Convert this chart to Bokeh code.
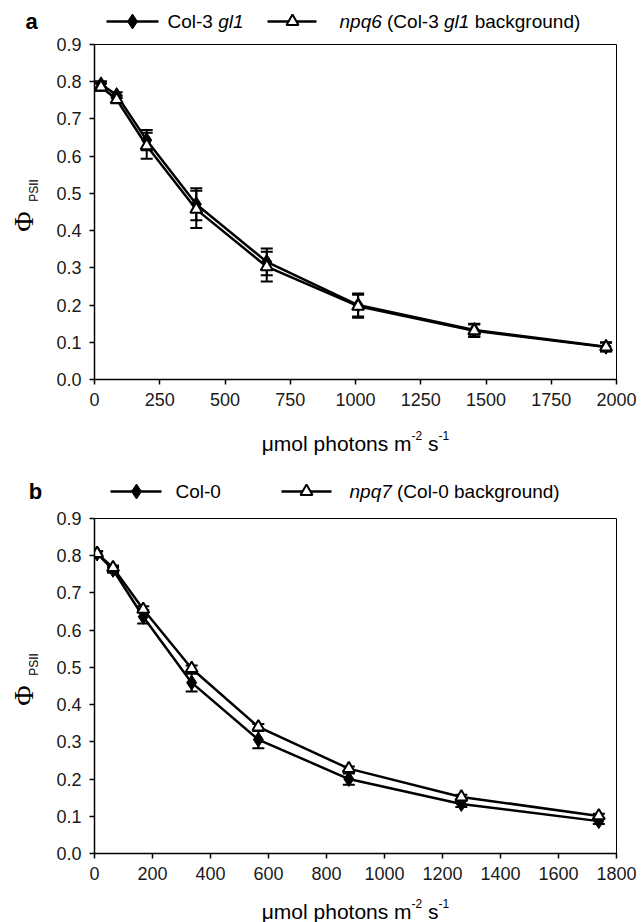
import math
from bokeh.plotting import figure
from bokeh.models import Range1d, FixedTicker, Whisker, TeeHead, ColumnDataSource, NumeralTickFormatter
from bokeh.layouts import column, row
from bokeh.embed import file_html
from bokeh.resources import INLINE
from bokeh.core.properties import value

# ---------------- data ----------------
# Panel a: Col-3 gl1 vs npq6
a_light = [25, 85, 200, 390, 660, 1010, 1455, 1960]
a_col3 = [0.793, 0.764, 0.643, 0.471, 0.316, 0.200, 0.133, 0.088]
a_col3_err = [0.008, 0.008, 0.027, 0.043, 0.036, 0.031, 0.017, 0.012]
a_npq6 = [0.786, 0.752, 0.628, 0.457, 0.303, 0.197, 0.131, 0.087]
a_npq6_err = [0.010, 0.010, 0.035, 0.050, 0.040, 0.031, 0.017, 0.012]
a_xticks = [0, 250, 500, 750, 1000, 1250, 1500, 1750, 2000]

# Panel b: Col-0 vs npq7
b_light = [9, 64, 168, 335, 565, 877, 1265, 1739]
b_col0 = [0.806, 0.762, 0.636, 0.459, 0.306, 0.200, 0.133, 0.087]
b_col0_err = [0.006, 0.008, 0.018, 0.024, 0.023, 0.015, 0.008, 0.008]
b_npq7 = [0.806, 0.768, 0.656, 0.497, 0.340, 0.228, 0.152, 0.101]
b_npq7_err = [0.006, 0.006, 0.008, 0.008, 0.008, 0.006, 0.006, 0.006]
b_xticks = [0, 200, 400, 600, 800, 1000, 1200, 1400, 1600, 1800]

yticks = [0.0, 0.1, 0.2, 0.3, 0.4, 0.5, 0.6, 0.7, 0.8, 0.9]

FONT = "Liberation Sans"
ARIAL = {' ': 278, '(': 333, ')': 333, '-': 333, 'C': 722, 'a': 556, 'b': 556, 'c': 500,
         'd': 556, 'g': 556, 'k': 500, 'l': 222, 'n': 556, 'o': 556, 'p': 556, 'q': 556,
         'r': 333, 'u': 556, 'm': 833, 's': 500, 't': 278, 'h': 556, 'μ': 576}
for _d in "0123456789":
    ARIAL[_d] = 556

W = 641


def text_width(s, size):
    return sum(ARIAL.get(c, 556) for c in s) / 1000.0 * size


def blank_fig(x0, x1, top, bottom):
    p = figure(frame_width=x1 - x0, frame_height=bottom - top, title=None,
               min_border_left=0, min_border_right=0, min_border_top=0, min_border_bottom=0,
               x_range=Range1d(x0, x1), y_range=Range1d(bottom, top),
               x_axis_location=None, y_axis_location=None, frame_align=False,
               output_backend="svg", toolbar_location=None)
    p.outline_line_color = None
    p.xgrid.visible = False
    p.ygrid.visible = False
    return p


def put_text(p, x, y, s, size, style="normal", font=FONT, align="left", baseline="middle", angle=0.0):
    p.text(x=[x], y=[y], text=[s], text_font=value(font), text_font_size=value(f"{size}px"),
           text_font_style=style, text_align=align, text_baseline=baseline,
           text_color="black", angle=angle)


def add_legend(p, cy, letter, letter_x, items, fsize=19):
    put_text(p, letter_x, cy, letter, 22, style="bold", align="center")
    for (x0, x1, xm, marker, tx, pieces) in items:
        p.line([x0, x1], [cy, cy], line_color="black", line_width=2.5)
        if marker == "diamond":
            p.scatter([xm], [cy], marker="diamond", size=15, fill_color="black", line_color="black")
        else:
            p.scatter([xm], [cy], marker="triangle", size=12, fill_color="white",
                      line_color="black", line_width=2)
        x = tx
        for (s, italic) in pieces:
            lead = len(s) - len(s.lstrip(" "))
            put_text(p, x + text_width(" " * lead, fsize), cy, s.strip(" "), fsize,
                     style="italic" if italic else "normal")
            x += text_width(s, fsize)


def add_xlabel(p, cx, base, size=21, ssize=12):
    pieces = [("μmol photons m", size, 0), ("-2", ssize, 8), (" s", size, 0), ("-1", ssize, 8)]
    total = sum(text_width(s, fs) for s, fs, _ in pieces)
    x = cx - total / 2
    for s, fs, rise in pieces:
        lead = len(s) - len(s.lstrip(" "))
        put_text(p, x + text_width(" " * lead, fs), base - rise, s.strip(" "), fs, baseline="alphabetic")
        x += text_width(s, fs)


def ylabel_fig(top, bottom, phi_y, sub_y):
    p = blank_fig(0, 50, top, bottom)
    put_text(p, 23, phi_y, "Φ", 28, font="Liberation Serif", align="center", angle=math.pi / 2)
    put_text(p, 33, sub_y, "PSII", 12, align="center", angle=math.pi / 2)
    return p


def main_fig(light, s1, e1, s2, e2, xmax, xticks, fh, bt, bb):
    p = figure(frame_width=522, frame_height=fh, title=None,
               min_border_left=44, min_border_right=25, min_border_top=bt, min_border_bottom=bb,
               x_range=Range1d(0, xmax), y_range=Range1d(0, 0.9), frame_align=False,
               output_backend="svg", toolbar_location=None)
    p.xgrid.visible = False
    p.ygrid.visible = False
    p.outline_line_color = "black"
    p.outline_line_width = 1
    p.outline_line_alpha = 1
    p.xaxis.ticker = FixedTicker(ticks=xticks)
    p.yaxis.ticker = FixedTicker(ticks=yticks)
    p.yaxis.formatter = NumeralTickFormatter(format="0.0")
    for ax in (p.xaxis, p.yaxis):
        ax.axis_label = None
        ax.axis_line_color = "black"
        ax.axis_line_width = 1.5
        ax.major_tick_line_color = "black"
        ax.major_tick_line_width = 1.5
        ax.major_tick_out = 5
        ax.major_tick_in = 0
        ax.minor_tick_line_color = None
        ax.major_label_text_font = FONT
        ax.major_label_text_font_size = "18px"
        ax.major_label_text_color = "#1a1a1a"
        ax.major_label_standoff = 8
        ax.axis_label_standoff = 0

    up1 = [v + e for v, e in zip(s1, e1)]
    lo1 = [v - e for v, e in zip(s1, e1)]
    up2 = [v + e for v, e in zip(s2, e2)]
    lo2 = [v - e for v, e in zip(s2, e2)]
    for up, lo in ((up1, lo1), (up2, lo2)):
        src = ColumnDataSource(dict(base=light, upper=up, lower=lo))
        w = Whisker(source=src, base="base", upper="upper", lower="lower", dimension="height",
                    line_color="black", line_width=2,
                    upper_head=TeeHead(size=12, line_width=2, line_color="black"),
                    lower_head=TeeHead(size=12, line_width=2, line_color="black"))
        p.add_layout(w)

    p.line(light, s1, line_color="black", line_width=2.5)
    p.line(light, s2, line_color="black", line_width=2.5)
    p.scatter(light, s1, marker="diamond", size=15, fill_color="black", line_color="black")
    p.scatter(light, s2, marker="triangle", size=12, fill_color="white", line_color="black", line_width=2)
    return p


# ---------------- layout (page pixels, no page margin) ----------------
# legend a: y 0..33
leg_a = blank_fig(0, W, 0, 33)
add_legend(leg_a, 21, "a", 31, [
    (106, 158, 132, "diamond", 167, [("Col-3 ", False), ("gl1", True)]),
    (267, 316, 292, "triangle", 339, [("npq6", True), (" (Col-3 ", False), ("gl1", True), (" background)", False)]),
])

# panel a: y 33..419 (frame 44..379)
main_a = main_fig(a_light, a_col3, a_col3_err, a_npq6, a_npq6_err, 2000, a_xticks, 335, 11, 40)
ylab_a = ylabel_fig(33, 419, 221, 190)

# middle strip: y 419..507 (x label a, legend b)
mid = blank_fig(0, W, 419, 507)
add_xlabel(mid, 355, 443)
add_legend(mid, 491, "b", 35, [
    (110, 161, 136, "diamond", 175, [("Col-0", False)]),
    (281, 331, 306, "triangle", 349, [("npq7", True), (" (Col-0 background)", False)]),
])

# panel b: y 507..888 (frame 518..853)
main_b = main_fig(b_light, b_col0, b_col0_err, b_npq7, b_npq7_err, 1800, b_xticks, 335, 11, 35)
ylab_b = ylabel_fig(507, 888, 695, 664)

# x label b: y 888..922
xlab_b = blank_fig(0, W, 888, 922)
add_xlabel(xlab_b, 355, 911)

layout = column(leg_a, row(ylab_a, main_a, spacing=0), mid, row(ylab_b, main_b, spacing=0), xlab_b, spacing=0)
open("out.html", "w").write(file_html(layout, INLINE))
